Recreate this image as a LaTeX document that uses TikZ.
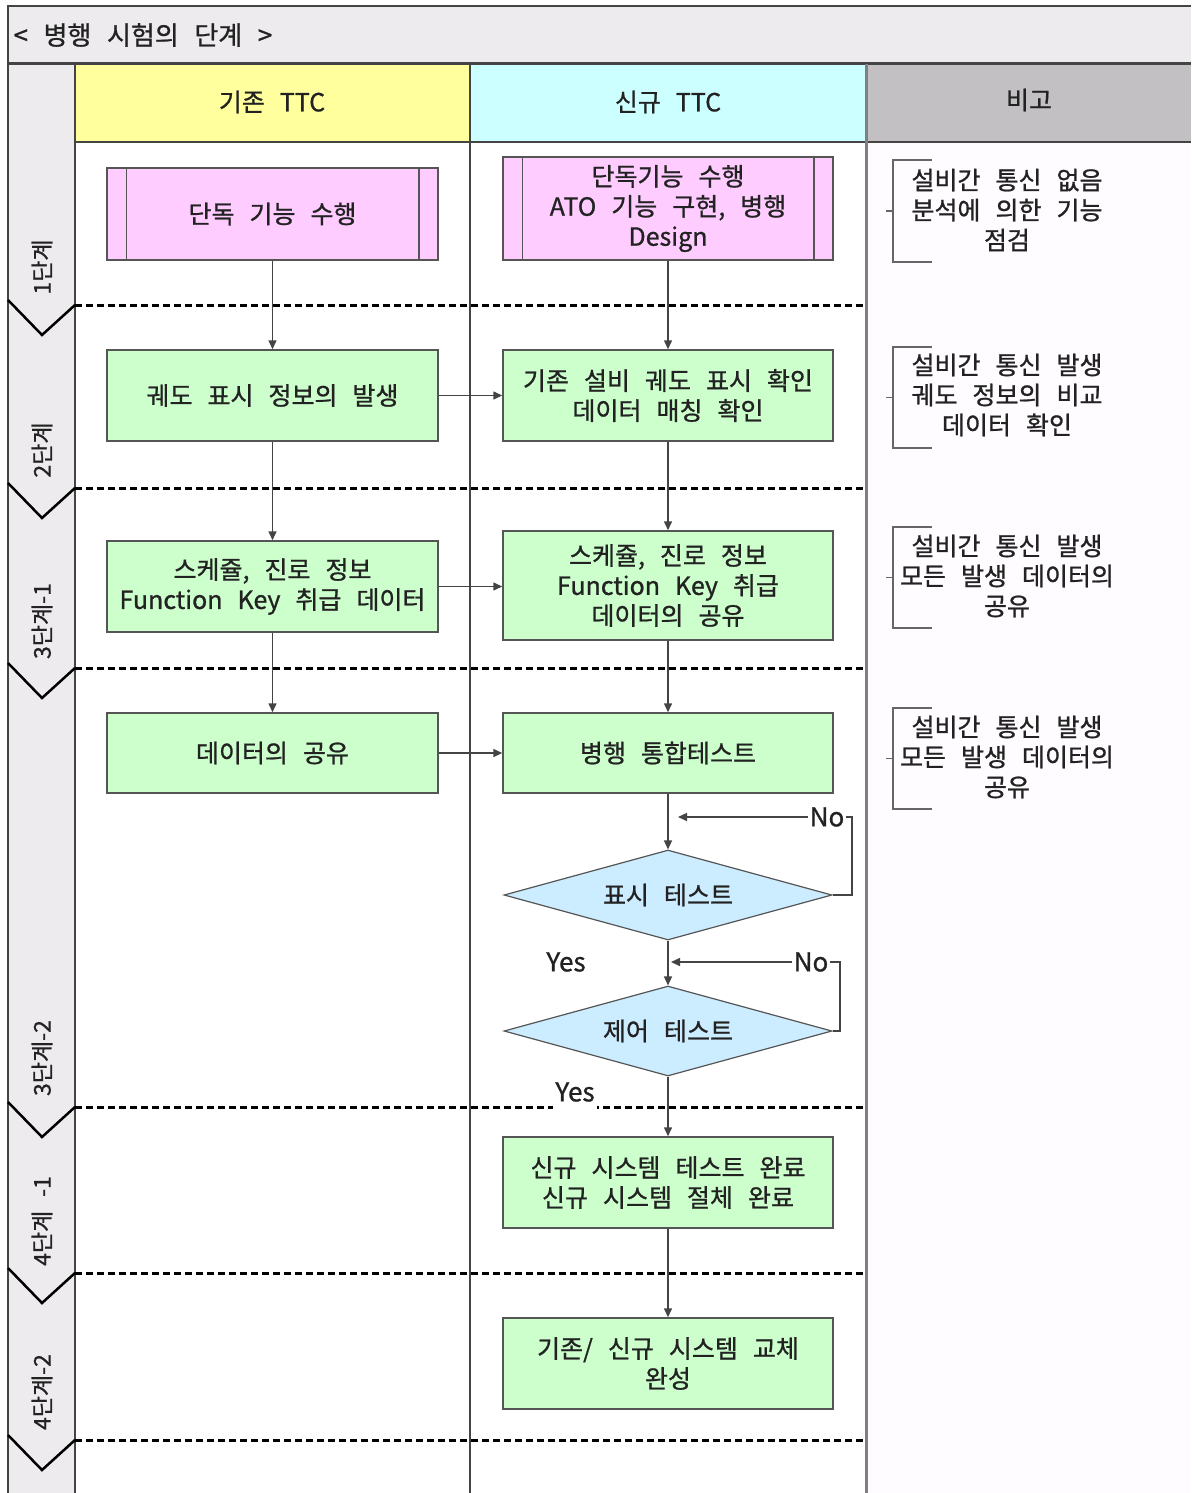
\documentclass[tikz,border=0pt]{standalone}
\usepackage{fontspec}
\setmainfont[FakeBold=0.9]{Noto Sans CJK KR}
\usetikzlibrary{shapes.geometric,arrows.meta,calc}
\definecolor{titlebg}{HTML}{EEEBEE}
\definecolor{stripbg}{HTML}{EEEBEE}
\definecolor{hyellow}{HTML}{FFFF9E}
\definecolor{hcyan}{HTML}{CCFFFF}
\definecolor{hgray}{HTML}{C2C0C2}
\definecolor{notebg}{HTML}{FFFCFF}
\definecolor{pinkf}{HTML}{FFCCFF}
\definecolor{greenf}{HTML}{CCFFCC}
\definecolor{bluef}{HTML}{CCECFF}
\definecolor{boxline}{HTML}{555555}
\definecolor{conncol}{HTML}{444444}
\definecolor{brkcol}{HTML}{666666}
\definecolor{txt}{HTML}{222222}
\definecolor{frame}{HTML}{444444}
\newcommand\myfs[2]{\fontsize{#1}{#2}\selectfont\spaceskip=0.6em\relax}
\begin{document}
\begin{tikzpicture}[x=1pt,y=-1pt,
  every node/.style={font=\myfs{25}{30}, text=txt},
  pbox/.style={draw=boxline, line width=1.5pt, fill=pinkf, minimum width=331pt, align=center, inner sep=0pt},
  gbox/.style={draw=boxline, line width=1.5pt, fill=greenf, minimum width=331pt, align=center, inner sep=0pt},
  dia/.style={diamond, draw=boxline, line width=1.2pt, fill=bluef, minimum width=328pt, minimum height=90pt, aspect=3.6, inner sep=0pt},
  conn/.style={draw=conncol, line width=1.5pt},
  arr/.style={conn, -{Triangle[length=9pt,width=8pt]}},
  phasesep/.style={draw=black, line width=3pt, dash pattern=on 7pt off 4pt},
  chev/.style={draw=black, line width=2.5pt},
  brk/.style={draw=brkcol, line width=1.8pt},
  plabel/.style={rotate=90, font=\myfs{23}{26}},
  yn/.style={fill=white, inner sep=2pt, font=\myfs{26}{28}}
]
\useasboundingbox (0,0) rectangle (1191,1493);
\fill[white] (0,0) rectangle (1191,1493);
% backgrounds
\fill[titlebg] (8,6) rectangle (1191,64);
\fill[hyellow] (75,64) rectangle (470,142);
\fill[hcyan] (470,64) rectangle (866,142);
\fill[hgray] (866,64) rectangle (1191,142);
\fill[notebg] (866,142) rectangle (1191,1493);
\fill[stripbg] (8,64) rectangle (75,1493);
% frame lines
\draw[frame, line width=2.5pt] (1191,6) -- (8,6) -- (8,1493);
\draw[frame, line width=3pt] (8,64) -- (1191,64);
\draw[frame, line width=2pt] (75,142) -- (1191,142);
\draw[frame, line width=2.5pt] (75,64) -- (75,1493);
\draw[frame, line width=1.5pt] (470,64) -- (470,1493);
\draw[draw=gray, line width=3pt] (866,64) -- (866,1493);
% phase separators and chevrons
\foreach \yy in {305,488,668,1107,1273,1440}{
  \draw[phasesep] (75,\yy) -- (866,\yy);
  \draw[chev] (8,{\yy-5}) -- (42,{\yy+30}) -- (75,\yy);
}
% title and headers
\node[anchor=west, font=\myfs{26}{28}] (title) at (10,35) {< 병행 시험의 단계 >};
\node (h1) at (272,102) {기존 TTC};
\node (h2) at (668,102) {신규 TTC};
\node (h3) at (1029,100) {비고};
% phase labels
\node[plabel] (p1) at (42,267) {1단계};
\node[plabel] (p2) at (42,450) {2단계};
\node[plabel] (p3) at (42,621) {3단계-1};
\node[plabel] (p4) at (42,1058) {3단계-2};
\node[plabel] (p5) at (42,1221) {4단계 -1};
\node[plabel] (p6) at (42,1392) {4단계-2};
% process nodes
\node[pbox, minimum height=92pt] (a1) at (272.5,214) {단독 기능 수행};
\node[pbox, minimum width=330pt, minimum height=103pt] (b1) at (668,208.5) {단독기능 수행\\ATO 기능 구현, 병행\\Design};
\foreach \n in {a1,b1}{
  \draw[boxline, line width=1.5pt] ($(\n.north west)+(20,0)$) -- ($(\n.south west)+(20,0)$);
  \draw[boxline, line width=1.5pt] ($(\n.north east)+(-20,0)$) -- ($(\n.south east)+(-20,0)$);
}
\node[gbox, minimum height=91pt] (a2) at (272.5,395.5) {궤도 표시 정보의 발생};
\node[gbox, minimum width=330pt, minimum height=91pt] (b2) at (668,395.5) {기존 설비 궤도 표시 확인\\데이터 매칭 확인};
\node[gbox, minimum height=91pt] (a3) at (272.5,586.5) {스케쥴, 진로 정보\\Function Key 취급 데이터};
\node[gbox, minimum width=330pt, minimum height=109pt] (b3) at (668,585.5) {스케쥴, 진로 정보\\Function Key 취급\\데이터의 공유};
\node[gbox, minimum height=80pt] (a4) at (272.5,753) {데이터의 공유};
\node[gbox, minimum width=330pt, minimum height=80pt] (b4) at (668,753) {병행 통합테스트};
\node[dia] (d1) at (668,895) {표시 테스트};
\node[dia] (d2) at (668,1031) {제어 테스트};
\node[gbox, minimum width=330pt, minimum height=91pt] (b5) at (668,1182.5) {신규 시스템 테스트 완료\\신규 시스템 절체 완료};
\node[gbox, minimum width=330pt, minimum height=91pt] (b6) at (668,1363.5) {기존/ 신규 시스템 교체\\완성};
% connectors
\draw[arr] (a1) -- (a2);
\draw[arr] (b1) -- (b2);
\draw[arr] (a2) -- (b2);
\draw[arr] (a2) -- (a3);
\draw[arr] (b2) -- (b3);
\draw[arr] (a3.east) -- (a3.east -| b3.west);
\draw[arr] (a3) -- (a4);
\draw[arr] (b3) -- (b4);
\draw[arr] (a4) -- (b4);
\draw[arr] (b4) -- (d1);
\draw[arr] (d1) -- (d2);
\draw[arr] (d2) -- (b5);
\draw[arr] (b5) -- (b6);
\coordinate (n1end) at (678,817);
\coordinate (n2end) at (671,962);
\draw[arr] (d1.east) -- (852,895) |- (n1end);
\draw[arr] (d2.east) -- (840,1031) |- (n2end);
\node[yn] (no1) at (827,817) {No};
\node[yn] (no2) at (811,962) {No};
\node[yn] (yes1) at (566,962) {Yes};
\node[yn, minimum height=36pt] (yes2) at (575,1092) {Yes};
% notes
\foreach \t/\b in {160/262,347/448,527/628,708/809}{
  \draw[brk] (932,\t) -- (893,\t) -- (893,\b) -- (932,\b);
  \draw[brk] (886,{(\t+\b)/2}) -- (893,{(\t+\b)/2});
}
\node[align=center] (c1) at (1007,210) {설비간 통신 없음\\분석에 의한 기능\\점검};
\node[align=center] (c2) at (1007,395) {설비간 통신 발생\\궤도 정보의 비교\\데이터 확인};
\node[align=center] (c3) at (1007,576) {설비간 통신 발생\\모든 발생 데이터의\\공유};
\node[align=center] (c4) at (1007,757) {설비간 통신 발생\\모든 발생 데이터의\\공유};
\end{tikzpicture}
\end{document}
